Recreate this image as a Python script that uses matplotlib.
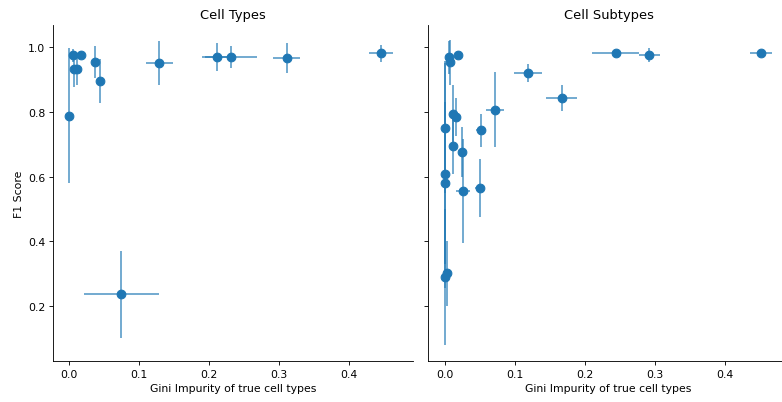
import numpy as np
import matplotlib.pyplot as plt

# Cell Types panel
types_gini = [0.000, 0.006, 0.017, 0.008, 0.011, 0.037, 0.044, 0.129, 0.212, 0.231, 0.311, 0.445, 0.075]
types_gini_err = [0.002, 0.003, 0.002, 0.003, 0.003, 0.002, 0.002, 0.019, 0.022, 0.037, 0.019, 0.017, 0.053]
types_f1 = [0.788, 0.974, 0.976, 0.933, 0.933, 0.953, 0.894, 0.952, 0.969, 0.968, 0.967, 0.981, 0.237]
types_f1_err = [0.208, 0.020, 0.012, 0.055, 0.050, 0.050, 0.068, 0.068, 0.043, 0.034, 0.046, 0.026, 0.135]

# Cell Subtypes panel
sub_gini = [0.007, 0.008, 0.0195, 0.001, 0.012, 0.0157, 0.012, 0.025, 0.052, 0.072, 0.119,
            0.167, 0.244, 0.292, 0.452, 0.000, 0.001, 0.026, 0.050, 0.000, 0.004]
sub_gini_err = [0.002, 0.002, 0.002, 0.001, 0.002, 0.002, 0.002, 0.002, 0.007, 0.013, 0.020,
                0.022, 0.034, 0.015, 0.016, 0.001, 0.001, 0.010, 0.006, 0.001, 0.002]
sub_f1 = [0.968, 0.953, 0.976, 0.751, 0.793, 0.784, 0.694, 0.677, 0.743, 0.807, 0.921,
          0.844, 0.982, 0.976, 0.982, 0.607, 0.580, 0.556, 0.565, 0.289, 0.302]
sub_f1_err = [0.050, 0.070, 0.012, 0.200, 0.090, 0.060, 0.085, 0.077, 0.050, 0.115, 0.028,
              0.040, 0.008, 0.022, 0.008, 0.350, 0.250, 0.160, 0.090, 0.210, 0.100]

# original looks like a 1000px figure shrunk to 782px, so render at dpi 78.2
fig, axes = plt.subplots(1, 2, figsize=(10, 5.153), dpi=78.2, sharey=True)
fig.subplots_adjust(left=0.0674, right=1.0084, top=0.9355, bottom=0.101, wspace=0.0433)

panels = [
    (axes[0], types_gini, types_gini_err, types_f1, types_f1_err, "Cell Types"),
    (axes[1], sub_gini, sub_gini_err, sub_f1, sub_f1_err, "Cell Subtypes"),
]
for ax, gx, gxe, fy, fye, title in panels:
    ax.errorbar(gx, fy, xerr=gxe, yerr=fye, fmt='o', color='C0', ms=8,
                ecolor=(0.12, 0.47, 0.71, 0.75), elinewidth=1.5)
    ax.set_title(title)
    ax.set_xlabel("Gini Impurity of true cell types")
    ax.set_xlim(-0.023, 0.491)
    ax.spines['top'].set_visible(False)
    ax.spines['right'].set_visible(False)

axes[0].set_ylim(0.03, 1.068)
axes[0].set_ylabel("F1 Score")

plt.savefig("out.png")
